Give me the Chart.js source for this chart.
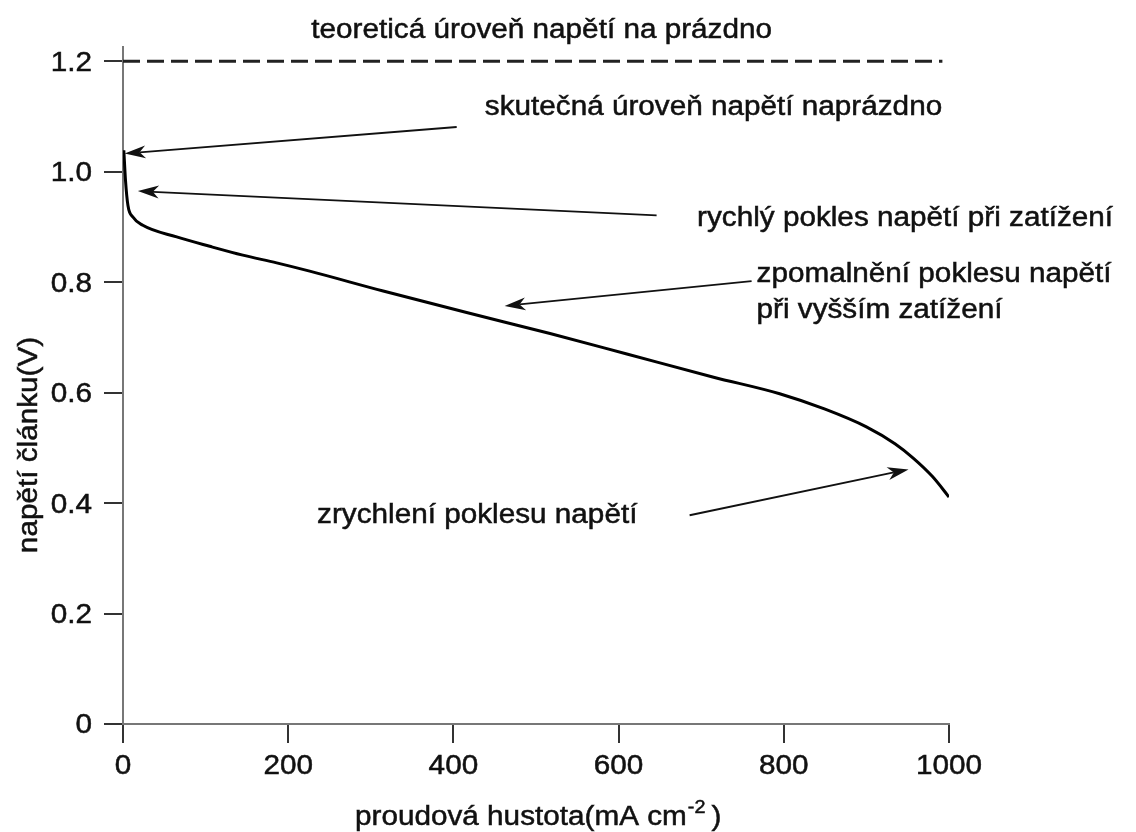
<!DOCTYPE html>
<html>
<head>
<meta charset="utf-8">
<script src="https://cdn.jsdelivr.net/npm/chart.js@4.4.1/dist/chart.umd.min.js"></script>
<style>
  body { margin: 0; background: #fff; }
  canvas { display: block; }
</style>
</head>
<body>
<canvas id="polarization" width="1136" height="832"></canvas>
<script>
// polarizacni krivka clanku
const currentDensity = [1, 3, 6, 12, 24, 65, 105, 145, 186, 226, 315, 416, 517, 610, 715, 795, 850, 900, 935, 957, 980, 1000];
const cellVoltage = [1.039, 0.985, 0.939, 0.918, 0.903, 0.882, 0.865, 0.849, 0.835, 0.820, 0.784, 0.745, 0.707, 0.670, 0.628, 0.598, 0.570, 0.538, 0.507, 0.481, 0.448, 0.411];

// teoreticka uroven napeti naprazdno
const theoryX = [0, 992];
const theoryY = [1.2, 1.2];

const xTicks = [0, 200, 400, 600, 800, 1000];
const yTicks = [0, 0.2, 0.4, 0.6, 0.8, 1.0, 1.2];
const yLabels = ['0', '0.2', '0.4', '0.6', '0.8', '1.0', '1.2'];

// popisky se sipkami (x, y v jednotkach grafu)
const notes = [
    { text: ['teoreticá úroveň napětí na prázdno'], x: 228, y: 1.242 },
    { text: ['skutečná úroveň napětí naprázdno'], x: 438, y: 1.102, from: [404, 1.081], to: [2, 1.033] },
    { text: ['rychlý pokles napětí při zatížení'], x: 695, y: 0.901, from: [646, 0.921], to: [18, 0.965] },
    { text: ['zpomalnění poklesu napětí', 'při vyšším zatížení'], x: 767, y: 0.800, from: [761, 0.802], to: [462, 0.757] },
    { text: ['zrychlení poklesu napětí'], x: 235, y: 0.364, from: [686, 0.378], to: [951, 0.461] }
];

const FONT = '"Liberation Sans", Arial, sans-serif';
const SIZE = 27;
const SX = 1.1; // puvodni pismo je trochu sirsi
Chart.defaults.font.family = FONT;
Chart.defaults.color = '#111';

function label(ctx, str, x, y, align, base, size) {
    ctx.save();
    ctx.translate(x, y);
    ctx.scale(SX, 1);
    ctx.font = (size || SIZE) + 'px ' + FONT;
    ctx.textAlign = align || 'left';
    ctx.textBaseline = base || 'alphabetic';
    ctx.fillText(str, 0, 0);
    ctx.strokeText(str, 0, 0);
    const w = ctx.measureText(str).width * SX;
    ctx.restore();
    return w;
}

function arrow(ctx, x1, y1, x2, y2) {
    const ang = Math.atan2(y2 - y1, x2 - x1);
    const len = 21, half = 6.5;
    const c = Math.cos(ang), s = Math.sin(ang);
    const bx = x2 - c * len, by = y2 - s * len;
    ctx.beginPath();
    ctx.moveTo(x1, y1);
    ctx.lineTo(bx + c * 6, by + s * 6);
    ctx.stroke();
    ctx.beginPath();
    ctx.moveTo(x2, y2);
    ctx.lineTo(bx - s * half, by + c * half);
    ctx.lineTo(bx + c * 6, by + s * 6);
    ctx.lineTo(bx + s * half, by - c * half);
    ctx.closePath();
    ctx.fill();
}

const notesPlugin = {
    id: 'notes',
    afterDraw(chart) {
        const { ctx, scales: { x, y } } = chart;
        ctx.save();
        ctx.fillStyle = '#111';
        ctx.strokeStyle = '#111';

        // popisky os
        ctx.lineWidth = 0.5;
        xTicks.forEach(v => label(ctx, String(v), x.getPixelForValue(v), 767, 'center', 'middle'));
        yTicks.forEach((v, i) => label(ctx, yLabels[i], 92, y.getPixelForValue(v) + 2, 'right', 'middle'));

        notes.forEach(n => {
            const px = x.getPixelForValue(n.x), py = y.getPixelForValue(n.y);
            ctx.lineWidth = 0.5;
            n.text.forEach((t, i) => label(ctx, t, px, py + i * 36));
            if (n.from) {
                ctx.lineWidth = 1.8;
                arrow(ctx, x.getPixelForValue(n.from[0]), y.getPixelForValue(n.from[1]),
                    x.getPixelForValue(n.to[0]), y.getPixelForValue(n.to[1]));
            }
        });

        // nazvy os
        ctx.lineWidth = 0.5;
        ctx.save();
        ctx.translate(30, 445);
        ctx.rotate(-Math.PI / 2);
        label(ctx, 'napětí článku(V)', 0, 0, 'center', 'middle');
        ctx.restore();

        let tx = 355;
        const base = 825;
        tx += label(ctx, 'proudová hustota(mA cm', tx, base) + 1;
        tx += label(ctx, '-2', tx, base - 12, 'left', 'alphabetic', 18) + 6;
        label(ctx, ')', tx, base);
        ctx.restore();
    }
};

new Chart(document.getElementById('polarization'), {
    type: 'scatter',
    data: {
        datasets: [
            {
                data: currentDensity.map((v, i) => ({ x: v, y: cellVoltage[i] })),
                showLine: true,
                borderColor: '#000',
                borderWidth: 3,
                pointRadius: 0,
                cubicInterpolationMode: 'monotone'
            },
            {
                data: theoryX.map((v, i) => ({ x: v, y: theoryY[i] })),
                showLine: true,
                borderColor: '#222',
                borderWidth: 3,
                borderDash: [17, 7],
                pointRadius: 0
            }
        ]
    },
    options: {
        responsive: false,
        animation: false,
        layout: { padding: { top: 47, right: 187, left: 0, bottom: 0 } },
        plugins: { legend: { display: false }, tooltip: { enabled: false } },
        scales: {
            x: {
                type: 'linear',
                min: 0,
                max: 1000,
                afterBuildTicks: s => { s.ticks = xTicks.map(v => ({ value: v })); },
                afterFit: s => { s.height = 108; },
                ticks: { display: false },
                grid: { drawOnChartArea: false, tickLength: 19, color: '#333', lineWidth: 2 },
                border: { color: '#777', width: 2 }
            },
            y: {
                min: 0,
                max: 1.2259,
                afterBuildTicks: s => { s.ticks = yTicks.map(v => ({ value: v })); },
                afterFit: s => { s.width = 123; },
                ticks: { display: false },
                grid: { drawOnChartArea: false, tickLength: 19, color: '#333', lineWidth: 2 },
                border: { color: '#777', width: 2 }
            }
        }
    },
    plugins: [notesPlugin]
});
</script>
</body>
</html>
